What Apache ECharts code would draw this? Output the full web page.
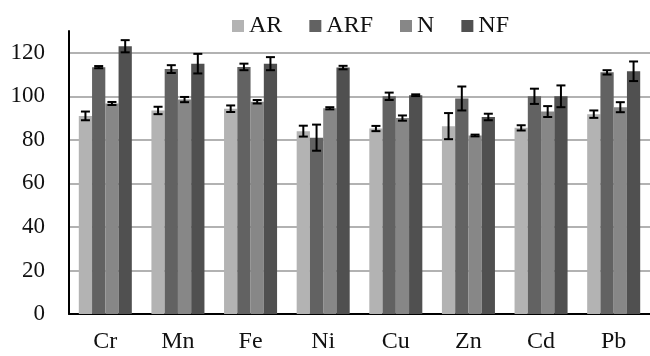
<!DOCTYPE html>
<html><head><meta charset="utf-8">
<script src="https://cdn.jsdelivr.net/npm/echarts@6/dist/echarts.min.js"></script>
<style>html,body{margin:0;padding:0;background:#fff}#c{width:650px;height:356px}</style>
</head><body><div id="c"></div>
<script>
var categories = ['Cr','Mn','Fe','Ni','Cu','Zn','Cd','Pb'];
var seriesNames = ['AR','ARF','N','NF'];
var AR  = [91, 93.5, 94.3, 84, 85.2, 86.3, 85.5, 91.8];
var ARF = [113.4, 112.5, 113.5, 81, 100, 99, 100, 111];
var N   = [96.7, 98.5, 97.5, 94.5, 90, 82, 93, 95];
var NF  = [123, 115, 115, 113.2, 100.5, 90.5, 100, 111.5];
var AR_err  = [2, 1.7, 1.5, 2.5, 1.2, 6, 1.2, 1.7];
var ARF_err = [0.5, 1.8, 1.5, 6, 1.7, 5.5, 3.5, 1];
var N_err   = [0.7, 1.2, 0.8, 0.5, 1.2, 0.4, 2.5, 2.3];
var NF_err  = [2.8, 4.5, 3, 0.8, 0.4, 1.5, 5, 4.5];
var yTicks = [0, 20, 40, 60, 80, 100, 120];

var values = [AR, ARF, N, NF];
var errs = [AR_err, ARF_err, N_err, NF_err];
var colors = ['#b3b3b3', '#626262', '#878787', '#505050'];
var gapRatio = 0.27;

var chart = echarts.init(document.getElementById('c'));
var series = [];
seriesNames.forEach(function(n, i){
  series.push({
    name: n, type: 'bar', data: values[i],
    barGap: '0%', barCategoryGap: '27%',
    itemStyle: {color: colors[i]}
  });
});
seriesNames.forEach(function(n, i){
  var data = categories.map(function(c, j){ return [j, values[i][j] - errs[i][j], values[i][j] + errs[i][j]]; });
  series.push({
    type: 'custom', z: 10, silent: true,
    data: data,
    encode: {x: 0, y: [1, 2]},
    renderItem: function(params, api){
      var xi = api.value(0);
      var lo = api.coord([xi, api.value(1)]);
      var hi = api.coord([xi, api.value(2)]);
      var band = api.size([1, 0])[0];
      var gw = band * (1 - gapRatio);
      var x = lo[0] - gw / 2 + (i + 0.5) * gw / 4;
      var cap = 4.5;
      var st = {stroke: '#000', lineWidth: 2};
      return {type: 'group', children: [
        {type: 'line', shape: {x1: x, y1: lo[1], x2: x, y2: hi[1]}, style: st},
        {type: 'line', shape: {x1: x - cap, y1: lo[1], x2: x + cap, y2: lo[1]}, style: st},
        {type: 'line', shape: {x1: x - cap, y1: hi[1], x2: x + cap, y2: hi[1]}, style: st}
      ]};
    }
  });
});

chart.setOption({
  animation: false,
  textStyle: {fontFamily: 'Liberation Serif'},
  legend: {
    data: seriesNames, top: 9, left: 227,
    icon: 'rect', itemWidth: 12, itemHeight: 12, itemGap: 27,
    textStyle: {fontFamily: 'Liberation Serif', fontSize: 24, color: '#111'}
  },
  grid: {left: 69, right: -3, top: 31, bottom: 42, containLabel: false},
  xAxis: {
    type: 'category', data: categories,
    axisLine: {lineStyle: {color: '#000', width: 2}},
    axisTick: {show: false},
    axisLabel: {fontFamily: 'Liberation Serif', fontSize: 24, color: '#111', margin: 16}
  },
  yAxis: {
    type: 'value', min: yTicks[0], max: 130, interval: yTicks[1] - yTicks[0],
    axisLine: {show: true, lineStyle: {color: '#000', width: 2}},
    axisTick: {show: false},
    axisLabel: {fontFamily: 'Liberation Serif', fontSize: 23, color: '#111', margin: 24,
      formatter: function(v){ return yTicks.indexOf(v) >= 0 ? String(v) : ''; }},
    splitLine: {lineStyle: {color: ['#999','#999','#999','#999','#999','#999','#999','rgba(0,0,0,0)'], width: 1.5}}
  },
  series: series
});
</script></body></html>
